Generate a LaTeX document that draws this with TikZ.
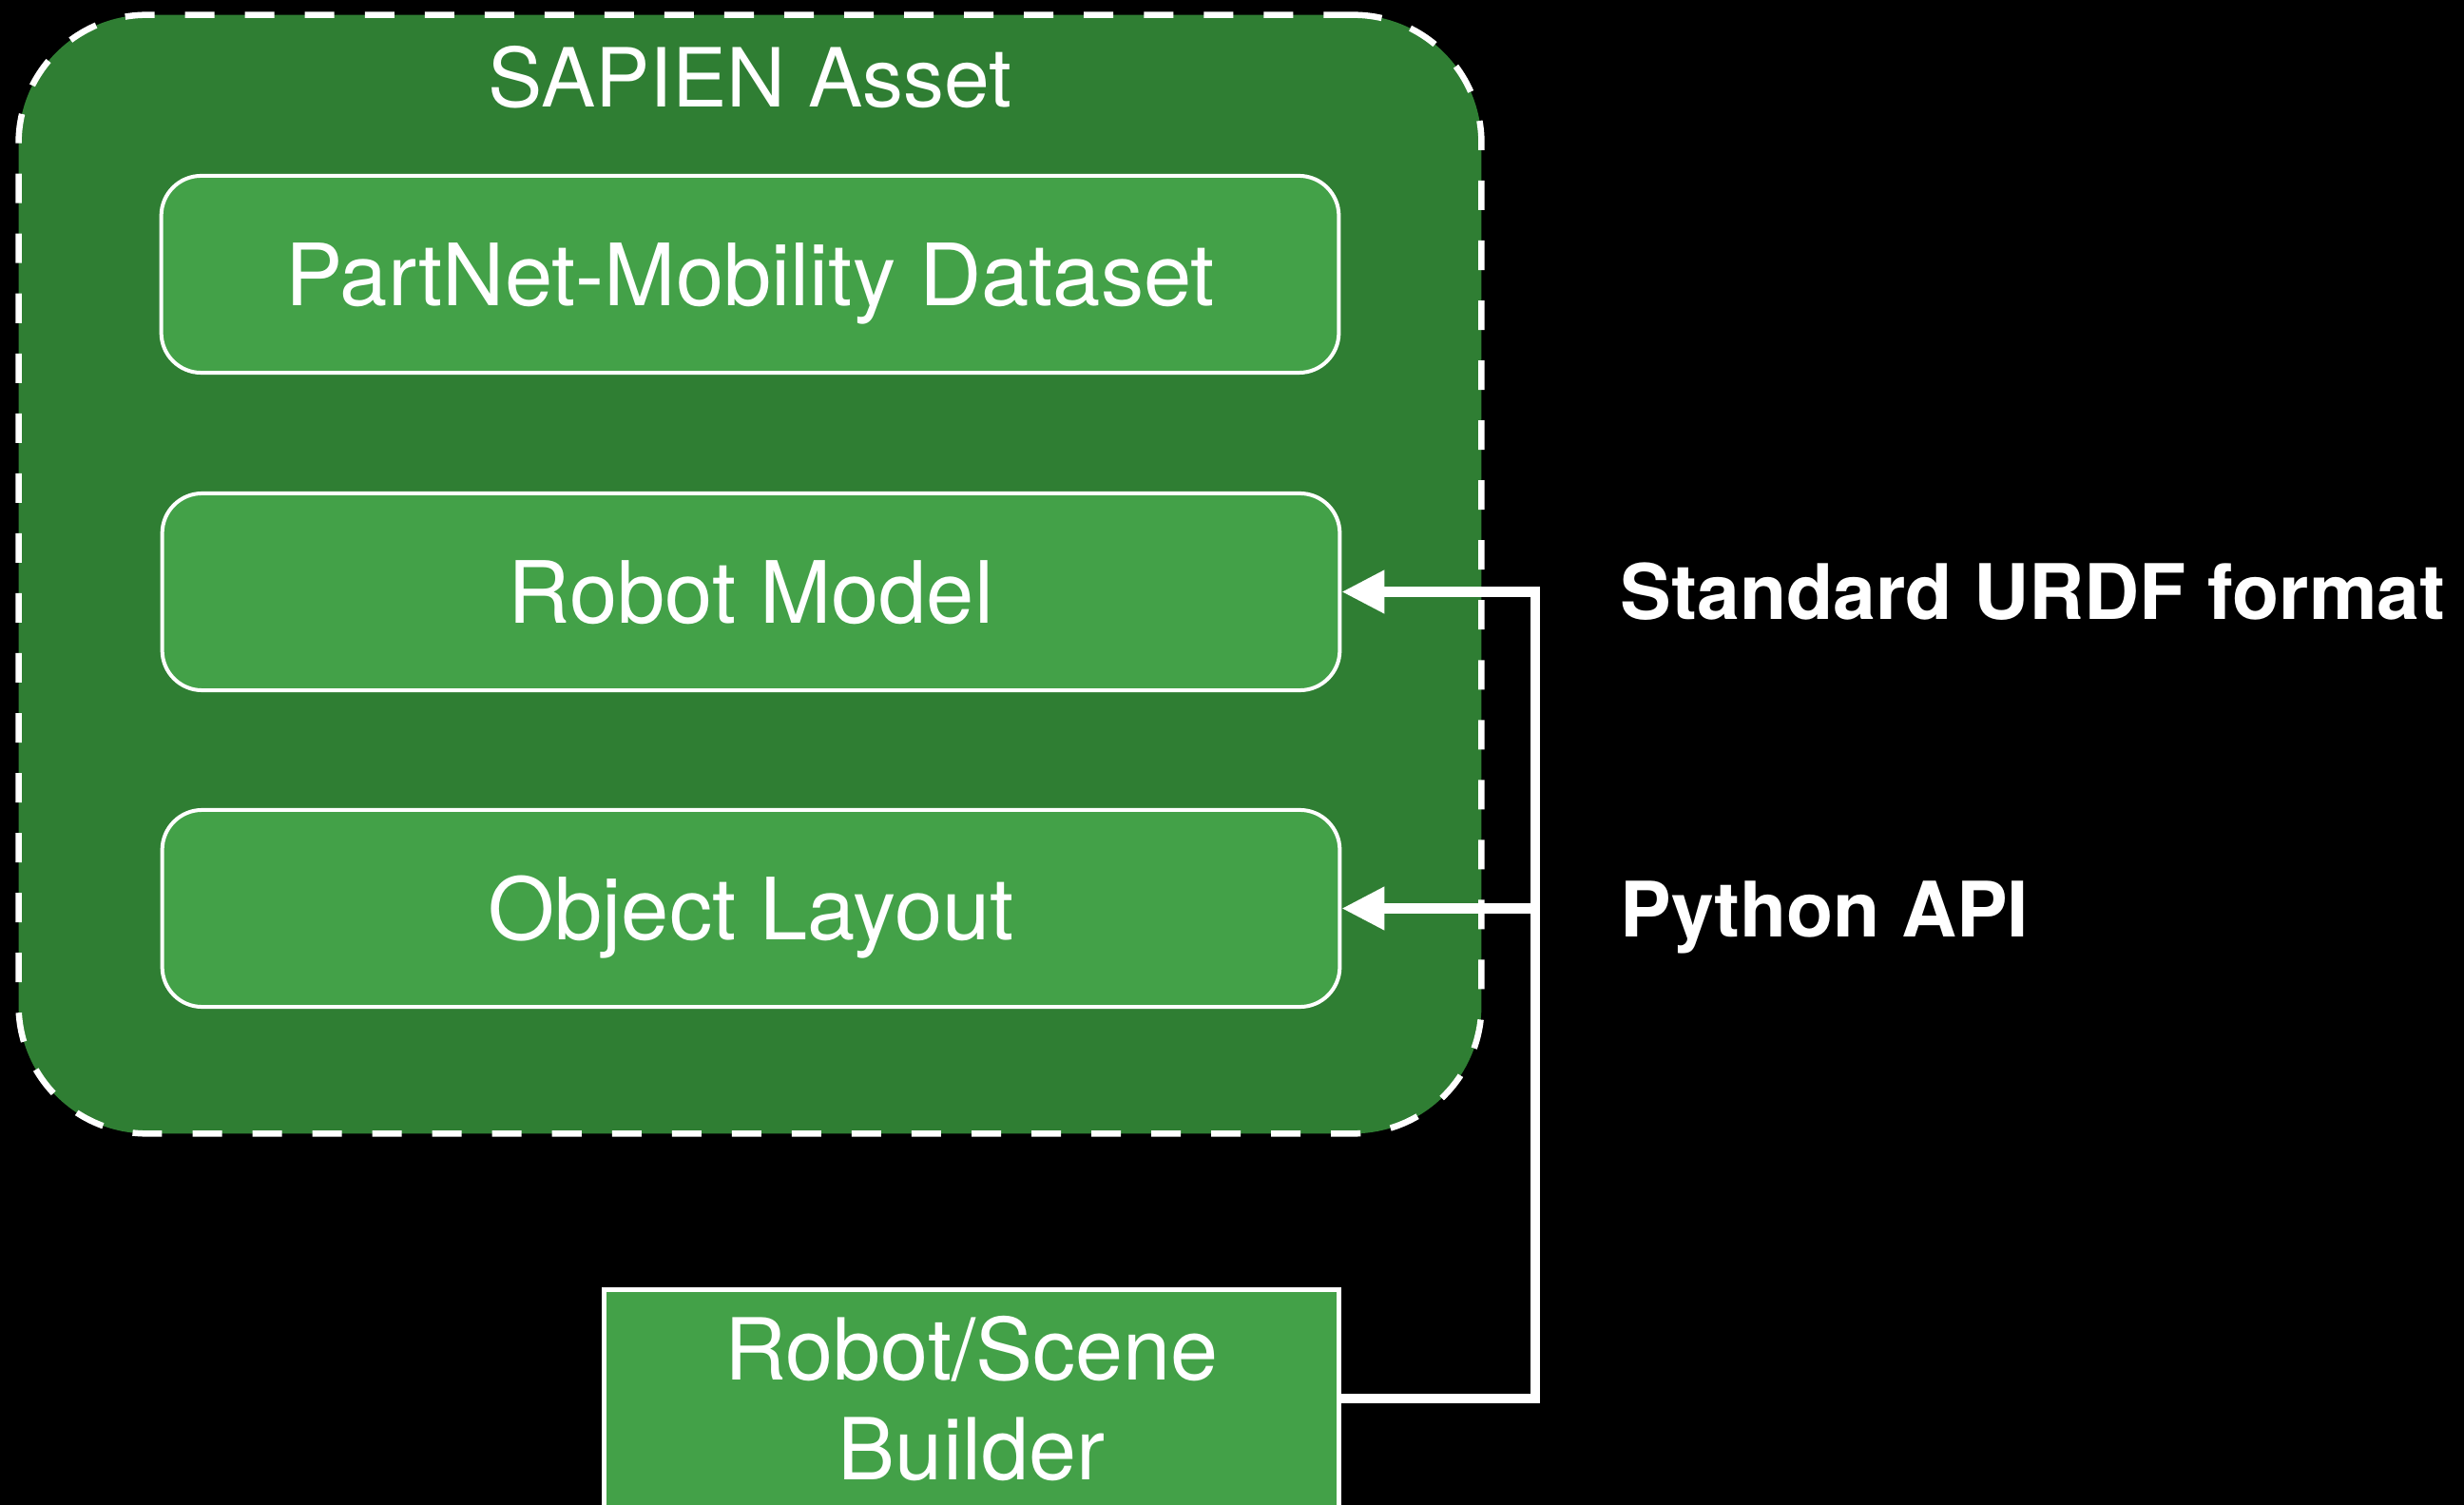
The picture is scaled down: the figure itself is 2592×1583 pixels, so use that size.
\documentclass[tikz,border=0pt]{standalone}
\usepackage{fontspec}
\setmainfont{TeX Gyre Heros}
\usetikzlibrary{arrows.meta}
\definecolor{assetgreen}{HTML}{2F7E33}
\definecolor{boxgreen}{HTML}{43A148}
\begin{document}
\begin{tikzpicture}[x=0.01cm,y=-0.01cm,
  assetbox/.style={draw=white,fill=assetgreen,line width=0.065cm,dash pattern=on 0.31cm off 0.32cm,rounded corners=1.35cm,minimum width=15.38cm,minimum height=11.76cm},
  partbox/.style={draw=white,fill=boxgreen,line width=0.04cm,rounded corners=0.42cm,minimum width=12.38cm,minimum height=2.07cm,text=white,font=\fontsize{25.7pt}{30pt}\selectfont,text height=0.65cm,text depth=0pt},
  builderbox/.style={draw=white,fill=boxgreen,line width=0.05cm,minimum width=7.72cm,minimum height=2.28cm,text=white,align=center,font=\fontsize{25.6pt}{29.6pt}\selectfont},
  conn/.style={draw=white,line width=0.105cm,line join=miter},
  toarrow/.style={-{Triangle[length=0.45cm,width=0.43cm]}},
  sidetext/.style={text=white,inner sep=0pt,anchor=base west,font=\bfseries\fontsize{22.9pt}{27pt}\selectfont}]
\fill[black] (0,0) rectangle (2592,1583);
\useasboundingbox (0,0) rectangle (2592,1583);
\clip (0,0) rectangle (2592,1583);

\node[assetbox] (asset) at (789,604) {};
\node[anchor=base,text=white,font=\fontsize{24.4pt}{28pt}\selectfont] (title) at (789,113) {SAPIEN Asset};

\node[partbox] (partnet) at (789,288.5) {PartNet-Mobility Dataset};
\node[partbox] (robot) at (790,622.5) {Robot Model};
\node[partbox] (layout) at (790,955.5) {Object Layout};

\node[builderbox] (builder) at (1022,1471) {Robot/Scene\\Builder};

\coordinate (bus) at (1615,1471);
\draw[conn,toarrow] (builder.east) -- (bus) -- (bus |- robot.east) -- (robot.east);
\draw[conn,toarrow] (bus |- layout.east) -- (layout.east);

\node[sidetext] (urdf) at (1704,652) {Standard URDF format};
\node[sidetext] (api) at (1704,985) {Python API};
\end{tikzpicture}
\end{document}
